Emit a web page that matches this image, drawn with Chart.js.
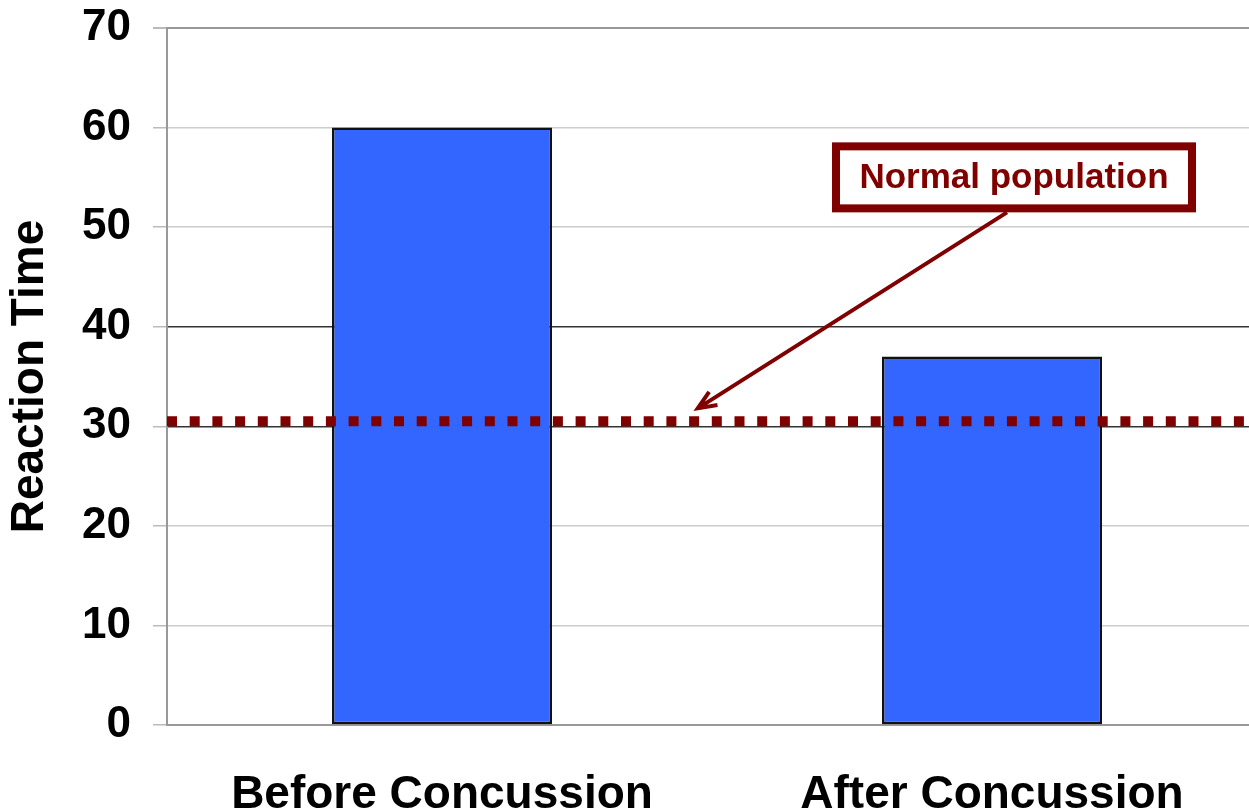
<!DOCTYPE html>
<html>
<head>
<meta charset="utf-8">
<script src="https://cdn.jsdelivr.net/npm/chart.js@4.4.0/dist/chart.umd.min.js"></script>
<style>
  html, body { margin: 0; padding: 0; background: #fff; overflow: hidden; }
  #wrap { width: 1249px; height: 812px; overflow: hidden; }
</style>
</head>
<body>
<div id="wrap"><canvas id="myChart" width="1267" height="812"></canvas></div>
<script>
// data
var categories = ['Before Concussion', 'After Concussion'];
var reactionTimes = [60, 37];
var normalPopulation = 30.5;
var yTicks = [0, 10, 20, 30, 40, 50, 60, 70];
var noteText = 'Normal population';

var darkRed = '#800000';
var fontFamily = '"Liberation Sans", Arial, Helvetica, sans-serif';

// dotted "normal population" line + the labelled arrow
const normalLine = {
    id: 'normalLine',
    afterDatasetsDraw(chart, args, opts) {
        const ctx = chart.ctx;
        const area = chart.chartArea;
        const x = chart.scales.x;
        const y = chart.scales.y;

        // dotted line
        const yLine = y.getPixelForValue(normalPopulation);
        ctx.save();
        ctx.strokeStyle = darkRed;
        ctx.lineWidth = 10;
        ctx.setLineDash([10, 12.7]);
        ctx.beginPath();
        ctx.moveTo(area.left, yLine);
        ctx.lineTo(area.right, yLine);
        ctx.stroke();
        ctx.setLineDash([]);

        // note box
        const cx = x.getPixelForValue(opts.boxX);
        const cy = y.getPixelForValue(opts.boxY);
        const w = 356, h = 62;
        ctx.fillStyle = '#fff';
        ctx.fillRect(cx - w / 2, cy - h / 2, w, h);
        ctx.lineWidth = 8;
        ctx.strokeStyle = darkRed;
        ctx.strokeRect(cx - w / 2, cy - h / 2, w, h);
        ctx.fillStyle = darkRed;
        ctx.font = 'bold 35px ' + fontFamily;
        ctx.textAlign = 'center';
        ctx.textBaseline = 'middle';
        ctx.fillText(noteText, cx, cy + 1);

        // arrow from box down to the line
        const tx = x.getPixelForValue(opts.tipX);
        const ty = y.getPixelForValue(opts.tipY);
        const sx = cx - 7;
        const sy = cy + h / 2 + 4;
        ctx.lineWidth = 4;
        ctx.beginPath();
        ctx.moveTo(sx, sy);
        ctx.lineTo(tx, ty);
        const ang = Math.atan2(sy - ty, sx - tx);
        const len = 20;
        ctx.moveTo(tx + len * Math.cos(ang - 0.4), ty + len * Math.sin(ang - 0.4));
        ctx.lineTo(tx, ty);
        ctx.lineTo(tx + len * Math.cos(ang + 0.4), ty + len * Math.sin(ang + 0.4));
        ctx.stroke();
        ctx.restore();
    }
};

var data = {
    labels: categories,
    datasets: [{
        data: reactionTimes,
        backgroundColor: '#3366ff',
        borderColor: '#111',
        borderWidth: 2.5,
        borderSkipped: false,
        barPercentage: 0.4,
        categoryPercentage: 1.0
    }]
};

const config = {
    type: 'bar',
    data: data,
    plugins: [normalLine],
    options: {
        responsive: false,
        animation: false,
        layout: { padding: { top: 28, right: 0, left: 0, bottom: 0 } },
        plugins: {
            legend: { display: false },
            tooltip: { enabled: false },
            normalLine: { boxX: 1.04, boxY: 55, tipX: 0.465, tipY: 31.8 }
        },
        scales: {
            x: {
                grid: { display: false, drawTicks: false },
                border: { display: true, color: '#999', width: 2 },
                ticks: {
                    color: '#000',
                    padding: 43,
                    font: { family: fontFamily, size: 46, weight: 'bold' }
                },
                afterFit(scale) {
                    scale.height = 87;
                    scale.paddingLeft = 0;
                    scale.paddingRight = 0;
                }
            },
            y: {
                min: 0,
                max: 70,
                afterBuildTicks(scale) {
                    scale.ticks = yTicks.map(v => ({ value: v }));
                },
                grid: {
                    color(ctx) {
                        const v = ctx.tick.value;
                        if (v === 30 || v === 40) return '#333';
                        if (v === 70) return '#999';
                        return '#ccc';
                    },
                    lineWidth(ctx) { return ctx.tick.value === 70 ? 2 : 1.5; },
                    tickColor: '#bbb',
                    tickLength: 14
                },
                border: { display: true, color: '#999', width: 2 },
                ticks: {
                    color: '#000',
                    padding: 22,
                    font: { family: fontFamily, size: 44, weight: 'bold' }
                },
                title: {
                    display: true,
                    text: 'Reaction Time',
                    color: '#000',
                    padding: { top: 3, bottom: 0 },
                    font: { family: fontFamily, size: 46, weight: 'bold' }
                },
                afterFit(scale) {
                    scale.width = 167;
                    scale.paddingTop = 0;
                    scale.paddingBottom = 0;
                }
            }
        }
    }
};

var ctx1 = document.getElementById('myChart').getContext('2d');
const chart1 = new Chart(ctx1, config);
</script>
</body>
</html>
